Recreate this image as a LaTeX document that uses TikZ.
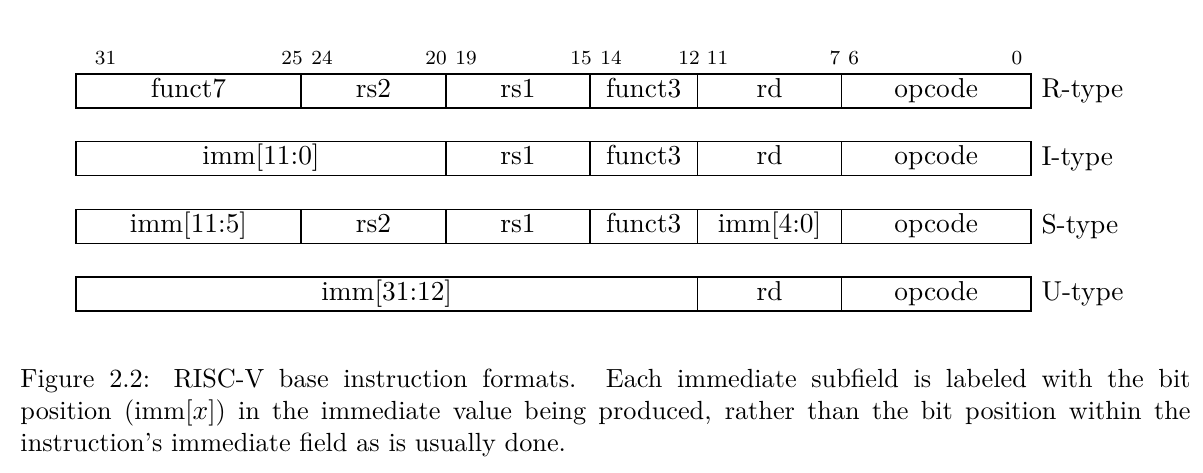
\documentclass[tikz,border=0pt]{standalone}
\usepackage{amsmath}
\usepackage{amssymb}
\usepackage{tikz}
\usepackage{color}

\begin{document}
\begin{tikzpicture}[x=0.4pt,y=0.4pt]
\tikzstyle{every node}+=[inner sep=0pt]
\tikzstyle{field}=[font=\fontsize{10.95}{13.6}\selectfont, text height=7.5pt, text depth=2.5pt]
\tikzstyle{bitno}=[font=\fontsize{8}{9.6}\selectfont, anchor=base]
\tikzstyle{kind}=[font=\fontsize{10.95}{13.6}\selectfont, anchor=base west]
\tikzstyle{cell}=[black, line width=0.5pt]
\useasboundingbox (0,0) rectangle (1203,-472);
\draw (105.5,-64.3) node [bitno] (b31) {31};
\draw (292,-64.3) node [bitno] (b25) {25};
\draw (322,-64.3) node [bitno] (b24) {24};
\draw (436,-64.3) node [bitno] (b20) {20};
\draw (466,-64.3) node [bitno] (b19) {19};
\draw (581,-64.3) node [bitno] (b15) {15};
\draw (611,-64.3) node [bitno] (b14) {14};
\draw (689,-64.3) node [bitno] (b12) {12};
\draw (717.5,-64.3) node [bitno] (b11) {11};
\draw (835,-64.3) node [bitno] (b7) {7};
\draw (853.7,-64.3) node [bitno] (b6) {6};
\draw (1017,-64.3) node [bitno] (b0) {0};
\draw [cell] (76,-74) rectangle (1031,-108);
\draw [cell] (301,-74) -- (301,-108);
\draw [cell] (446,-74) -- (446,-108);
\draw [cell] (590,-74) -- (590,-108);
\draw [cell] (697.5,-74) -- (697.5,-108);
\draw [cell] (841.5,-74) -- (841.5,-108);
\draw (188.5,-91) node [field] (rfunct7) {funct7};
\draw (373.5,-91) node [field] (rrs2) {rs2};
\draw (518,-91) node [field] (rrs1) {rs1};
\draw (643.7,-91) node [field] (rfunct3) {funct3};
\draw (769.5,-91) node [field] (rrd) {rd};
\draw (936.2,-91) node [field] (ropcode) {opcode};
\draw (1041,-97.7) node [kind] (rtype) {R-type};
\draw [cell] (76,-141.7) rectangle (1031,-175.7);
\draw [cell] (446,-141.7) -- (446,-175.7);
\draw [cell] (590,-141.7) -- (590,-175.7);
\draw [cell] (697.5,-141.7) -- (697.5,-175.7);
\draw [cell] (841.5,-141.7) -- (841.5,-175.7);
\draw (261,-158.7) node [field] (iimm) {imm[11:0]};
\draw (518,-158.7) node [field] (irs1) {rs1};
\draw (643.7,-158.7) node [field] (ifunct3) {funct3};
\draw (769.5,-158.7) node [field] (ird) {rd};
\draw (936.2,-158.7) node [field] (iopcode) {opcode};
\draw (1041,-165.4) node [kind] (itype) {I-type};
\draw [cell] (76,-209.4) rectangle (1031,-243.4);
\draw [cell] (301,-209.4) -- (301,-243.4);
\draw [cell] (446,-209.4) -- (446,-243.4);
\draw [cell] (590,-209.4) -- (590,-243.4);
\draw [cell] (697.5,-209.4) -- (697.5,-243.4);
\draw [cell] (841.5,-209.4) -- (841.5,-243.4);
\draw (188.5,-226.4) node [field] (simmhi) {imm[11:5]};
\draw (373.5,-226.4) node [field] (srs2) {rs2};
\draw (518,-226.4) node [field] (srs1) {rs1};
\draw (643.7,-226.4) node [field] (sfunct3) {funct3};
\draw (769.5,-226.4) node [field] (simmlo) {imm[4:0]};
\draw (936.2,-226.4) node [field] (sopcode) {opcode};
\draw (1041,-233.1) node [kind] (stype) {S-type};
\draw [cell] (76,-277.1) rectangle (1031,-311.1);
\draw [cell] (697.5,-277.1) -- (697.5,-311.1);
\draw [cell] (841.5,-277.1) -- (841.5,-311.1);
\draw (386.7,-294.1) node [field] (uimm) {imm[31:12]};
\draw (769.5,-294.1) node [field] (urd) {rd};
\draw (936.2,-294.1) node [field] (uopcode) {opcode};
\draw (1041,-300.8) node [kind] (utype) {U-type};
\draw (20,-387) node [anchor=base west, text width=468pt, align=justify, font=\fontsize{10.5}{12.8}\selectfont] (caption) {Figure 2.2: RISC-V base instruction formats.  Each immediate subfield is labeled with the bit\linebreak position (imm[$x$]) in the immediate value being produced, rather than the bit position within the\linebreak instruction's immediate field as is usually done.};
\end{tikzpicture}
\end{document}
